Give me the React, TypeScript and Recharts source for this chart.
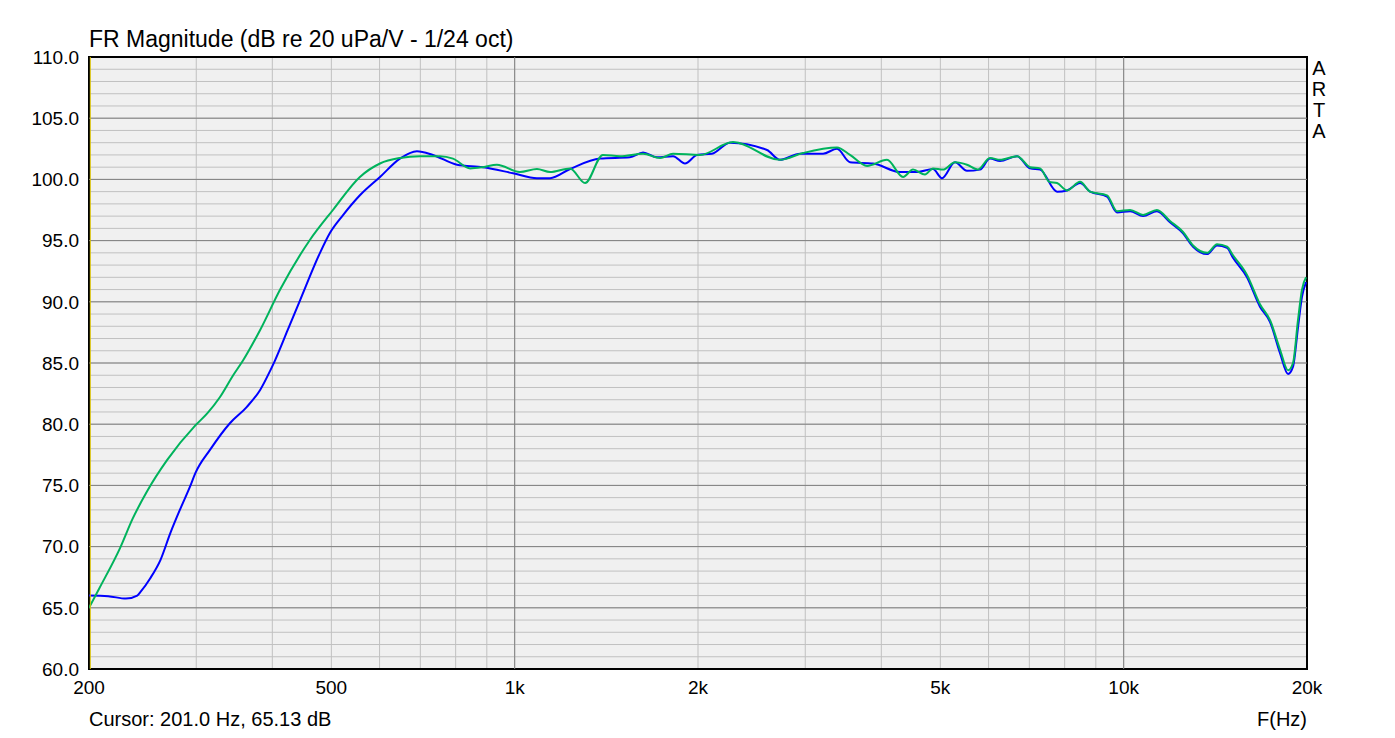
import React from "react";
import {
  LineChart,
  Line,
  XAxis,
  YAxis,
  CartesianGrid,
  ReferenceLine,
  ReferenceArea,
} from "recharts";

// blue trace (frequency in Hz, level in dB)
const blueFreq = [
  200, 215, 230, 240, 243, 252, 262, 272, 282, 293, 299, 316, 341, 363, 382, 397, 404, 424, 444, 479,
  497, 523, 557, 601, 648, 691, 734, 804, 887, 994, 1088, 1143, 1233, 1381, 1546, 1625, 1713, 1820,
  1904, 1993, 2108, 2258, 2596, 2726, 2942, 3209, 3383, 3553, 3878, 4293, 4579, 4863, 5031, 5285,
  5530, 5808, 6033, 6266, 6683, 7021, 7291, 7773, 8072, 8480, 8807, 9390, 9750, 10245, 10760, 11340,
  11913, 12516, 13000, 13705, 14234, 14785, 15118, 15940, 16741, 17393, 18060, 18618, 18970, 19330,
  19624, 19930,
];
const blueDb = [
  66.0, 65.95, 65.75, 66.0, 66.3, 67.4, 68.9, 71.1, 73.0, 74.9, 76.0, 77.9, 80.1, 81.4, 82.8, 84.4, 85.2,
  87.7, 90.1, 94.0, 95.6, 97.1, 98.7, 100.2, 101.7, 102.3, 102.0, 101.2, 101.0, 100.5, 100.1, 100.1,
  100.85, 101.7, 101.8, 102.2, 101.8, 101.9, 101.3, 102.0, 102.1, 103.0, 102.4, 101.6, 102.1, 102.1,
  102.5, 101.4, 101.3, 100.6, 100.6, 100.85, 100.1, 101.4, 100.7, 100.8, 101.7, 101.5, 101.9, 100.9,
  100.8, 99.0, 99.1, 99.7, 99.0, 98.6, 97.3, 97.4, 97.0, 97.4, 96.5, 95.6, 94.5, 93.9, 94.6, 94.4, 93.6,
  92.0, 89.6, 88.35, 85.8, 84.1, 84.7, 87.9, 90.4, 91.6,
];

// green trace
const greenFreq = [
  200, 208, 225, 236, 249, 269, 299, 313, 328, 345, 358, 382, 412, 461, 503, 557, 601, 648, 699, 754,
  792, 845, 887, 935, 1020, 1088, 1143, 1233, 1305, 1396, 1489, 1625, 1733, 1820, 2015, 2283, 2726,
  2974, 3383, 3553, 3790, 4086, 4342, 4509, 4718, 4863, 5050, 5285, 5530, 5760, 6033, 6266, 6683,
  7021, 7291, 7550, 7773, 8072, 8480, 8807, 9390, 9750, 10245, 10760, 11340, 11913, 12516, 13000,
  13705, 14234, 14785, 15118, 15940, 16741, 17393, 18060, 18618, 18970, 19330, 19624, 19930,
];
const greenDb = [
  65.0, 66.6, 69.9, 72.3, 74.5, 77.1, 79.9, 80.9, 82.2, 84.0, 85.2, 87.7, 91.0, 95.05, 97.5, 100.2, 101.3,
  101.75, 101.9, 101.9, 101.7, 100.9, 101.0, 101.2, 100.6, 100.85, 100.6, 100.9, 99.7, 102.0, 101.9,
  102.1, 101.75, 102.1, 102.0, 103.05, 101.6, 102.15, 102.6, 102.0, 101.1, 101.6, 100.2, 100.8, 100.4,
  100.9, 100.8, 101.4, 101.2, 100.8, 101.75, 101.6, 101.9, 101.0, 100.9, 99.8, 99.7, 99.1, 99.8, 99.0,
  98.7, 97.4, 97.5, 97.1, 97.5, 96.6, 95.7, 94.6, 94.0, 94.7, 94.5, 93.8, 92.2, 89.8, 88.5, 86.1, 84.4,
  85.0, 88.5, 91.0, 92.0,
];

const gridFreq = [
  200, 300, 400, 500, 600, 700, 800, 900, 1000, 2000, 3000, 4000, 5000, 6000, 7000, 8000, 9000, 10000,
  20000,
];
const freqLabels: Record<number, string> = {
  200: "200", 500: "500", 1000: "1k", 2000: "2k", 5000: "5k", 10000: "10k", 20000: "20k",
};
const decadeFreq = [1000, 10000];
const dbTicks = Array.from({ length: 51 }, (_, i) => 60 + i);
const majorDb = [65, 70, 75, 80, 85, 90, 95, 100, 105];

const blue = blueFreq.map((f, i) => ({ f, db: blueDb[i] }));
const green = greenFreq.map((f, i) => ({ f, db: greenDb[i] }));

const font = "'Liberation Sans', Arial, sans-serif";

export default function App() {
  return (
    <div
      style={{
        position: "absolute",
        left: 0,
        top: 0,
        width: 1395,
        height: 738,
        background: "#fff",
        fontFamily: font,
        color: "#000",
      }}
    >
      <div style={{ position: "absolute", left: 89, top: 26, fontSize: 23, lineHeight: "27px" }}>
        FR Magnitude (dB re 20 uPa/V - 1/24 oct)
      </div>
      <LineChart
        width={1395}
        height={738}
        margin={{ top: 57, left: 29, right: 88, bottom: 39 }}
      >
        <CartesianGrid stroke="#c0c0c0" strokeWidth={1} fill="#f0f0f0" fillOpacity={1} />
        {majorDb.map((v) => (
          <ReferenceLine key={"h" + v} y={v} stroke="#808080" strokeWidth={1} />
        ))}
        {decadeFreq.map((v) => (
          <ReferenceLine key={"v" + v} x={v} stroke="#808080" strokeWidth={1} />
        ))}
        <XAxis
          dataKey="f"
          type="number"
          scale="log"
          domain={[200, 20000]}
          allowDataOverflow
          ticks={gridFreq}
          tickFormatter={(v) => freqLabels[v] ?? ""}
          tickSize={0}
          tickMargin={12}
          height={30}
          axisLine={false}
          tick={{ fill: "#000", fontSize: 19, fontFamily: font }}
          interval={0}
        />
        <YAxis
          type="number"
          domain={[60, 110]}
          ticks={dbTicks}
          tickFormatter={(v) => (v % 5 === 0 ? v.toFixed(1) : "")}
          tickSize={0}
          tickMargin={10}
          width={60}
          axisLine={false}
          tick={{ fill: "#000", fontSize: 19, fontFamily: font }}
          interval={0}
        />
        <Line
          data={blue}
          dataKey="db"
          type="monotone"
          stroke="#0000ff"
          strokeWidth={2}
          dot={false}
          isAnimationActive={false}
        />
        <Line
          data={green}
          dataKey="db"
          type="monotone"
          stroke="#00b35c"
          strokeWidth={2}
          dot={false}
          isAnimationActive={false}
        />
        <ReferenceArea x1={200} x2={20000} y1={60} y2={110} fill="none" stroke="#000" strokeWidth={2} />
        <ReferenceLine x={201} stroke="#d8c000" strokeWidth={1} />
      </LineChart>
      <div style={{ position: "absolute", left: 89, top: 708, fontSize: 20, lineHeight: "23px" }}>
        Cursor: 201.0 Hz, 65.13 dB
      </div>
      <div style={{ position: "absolute", right: 1395 - 1307, top: 708, fontSize: 20, lineHeight: "23px" }}>
        F(Hz)
      </div>
      <div
        style={{
          position: "absolute",
          left: 1311,
          top: 58,
          fontSize: 20,
          lineHeight: "21px",
          width: 16,
          textAlign: "center",
        }}
      >
        A<br />R<br />T<br />A
      </div>
    </div>
  );
}
